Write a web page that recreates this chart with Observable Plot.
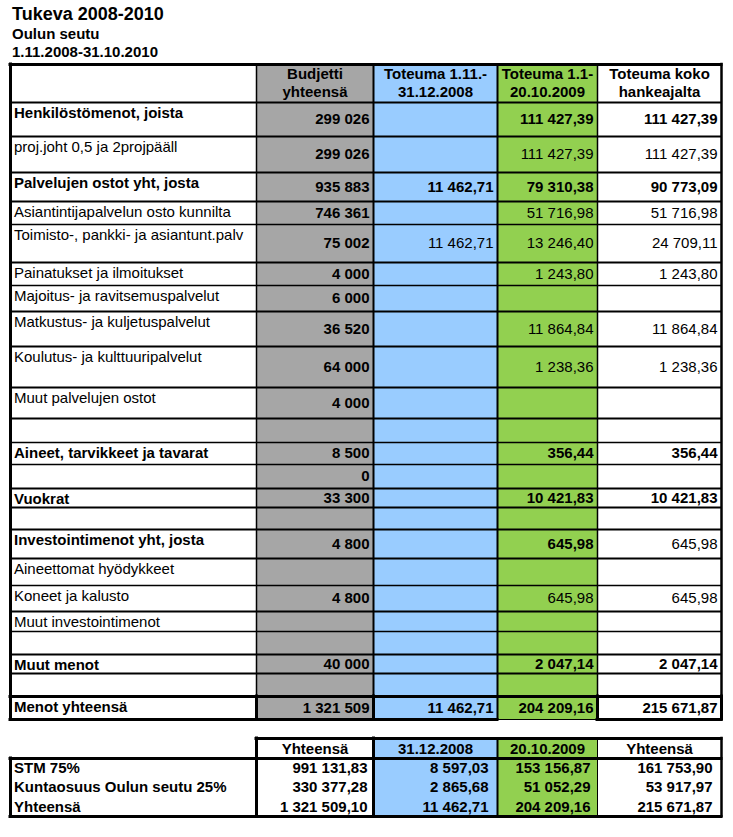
<!DOCTYPE html>
<html><head><meta charset="utf-8">
<script src="https://cdn.jsdelivr.net/npm/d3@7"></script>
<script src="https://cdn.jsdelivr.net/npm/@observablehq/plot@0.6"></script>
<style>
html,body{margin:0;padding:0;background:#fff;overflow:hidden;}
#head{padding:3px 0 0 12px;font-family:Arial,"Liberation Sans",sans-serif;font-weight:bold;color:#000;}
#t1{font-size:18px;line-height:22px;}
#t2,#t3{font-size:15px;line-height:18px;}
#chart svg{display:block;}
</style></head><body>
<div id="head"><div id="t1"></div><div id="t2"></div><div id="t3"></div></div>
<div id="chart"></div>
<script>
// ---------- DATA ----------
const title = "Tukeva 2008-2010";
const subtitle = "Oulun seutu";
const period = "1.11.2008-31.10.2010";

const headers = ["", "Budjetti\nyhteensä", "Toteuma 1.11.-\n31.12.2008", "Toteuma 1.1-\n20.10.2009", "Toteuma koko\nhankeajalta"];
const labels = [
  "Henkilöstömenot, joista", "proj.joht 0,5 ja 2projpääll", "Palvelujen ostot yht, josta",
  "Asiantintijapalvelun osto kunnilta", "Toimisto-, pankki- ja asiantunt.palv", "Painatukset ja ilmoitukset",
  "Majoitus- ja ravitsemuspalvelut", "Matkustus- ja kuljetuspalvelut", "Koulutus- ja kulttuuripalvelut",
  "Muut palvelujen ostot", "", "Aineet, tarvikkeet ja tavarat", "", "Vuokrat", "",
  "Investointimenot yht, josta", "Aineettomat hyödykkeet", "Koneet ja kalusto", "Muut investointimenot",
  "", "Muut menot", "", "Menot yhteensä"
];
const budjetti = [299026, 299026, 935883, 746361, 75002, 4000, 6000, 36520, 64000, 4000, null, 8500, 0, 33300, null, 4800, null, 4800, null, null, 40000, null, 1321509];
const toteuma2008 = [null, null, 11462.71, null, 11462.71, null, null, null, null, null, null, null, null, null, null, null, null, null, null, null, null, null, 11462.71];
const toteuma2009 = [111427.39, 111427.39, 79310.38, 51716.98, 13246.40, 1243.80, null, 11864.84, 1238.36, null, null, 356.44, null, 10421.83, null, 645.98, null, 645.98, null, null, 2047.14, null, 204209.16];
const toteumaKoko = [111427.39, 111427.39, 90773.09, 51716.98, 24709.11, 1243.80, null, 11864.84, 1238.36, null, null, 356.44, null, 10421.83, null, 645.98, null, 645.98, null, null, 2047.14, null, 215671.87];

const rahoitusHeaders = ["", "Yhteensä", "31.12.2008", "20.10.2009", "Yhteensä"];
const rahoitusLabels = ["STM 75%", "Kuntaosuus Oulun seutu 25%", "Yhteensä"];
const rahoitusYhteensa = [991131.83, 330377.28, 1321509.10];
const rahoitus2008 = [8597.03, 2865.68, 11462.71];
const rahoitus2009 = [153156.87, 51052.29, 204209.16];
const rahoitusKoko = [161753.90, 53917.97, 215671.87];

// ---------- LAYOUT / STYLE ----------
const boldRows = [0, 2, 11, 13, 15, 20, 22];
const regularExceptions = [{col: 4, row: 15}];
const colWidths = [246, 117, 124, 100, 124];
const mainRowHeights = [38, 34, 36, 29, 23, 38, 23, 26, 35, 41, 31, 24, 22, 24, 19, 22, 29, 27, 26, 20, 23, 19, 23, 23];
const mainLineWidths = [3, 2, 2, 2, 2, 1.5, 2, 1.5, 2, 2, 2, 2, 1.5, 1.5, 2, 2, 2, 2, 1.5, 2, 1.5, 2, 2, 3, 3];
const mainVLineWidths = [3, 1.5, 2, 2, 1.5, 2.5];
const gapHeight = 19;
const finRowHeights = [20, 19, 20, 19];
const finVLineWidths = [3, 3, 3, 2, 1, 2.5];
const finNumDx = [-6, -9, -7, -9];
const colKeys = ["label", "budjetti", "t2008", "t2009", "koko", "plain"];
const colColors = ["white", "#a6a6a6", "#99ccff", "#92d050", "white", "white"];

document.getElementById("t1").textContent = title;
document.getElementById("t2").textContent = subtitle;
document.getElementById("t3").textContent = period;

const loc = d3.formatLocale({decimal: ",", thousands: " ", grouping: [3], currency: ["", ""]});
const fmt2 = loc.format(",.2f"), fmt0 = loc.format(",.0f");

const cum = (a, start = 0) => a.reduce((acc, v) => (acc.push(acc[acc.length - 1] + v), acc), [start]);
const colEdges = cum(colWidths);
const mainEdges = cum(mainRowHeights);
const mainBottom = mainEdges[mainEdges.length - 1];
const finEdges = cum(finRowHeights, mainBottom + gapHeight);
const totalW = colEdges[colEdges.length - 1];
const totalH = finEdges[finEdges.length - 1];

// cells
const cells = [];
for (let r = 0; r < mainRowHeights.length; r++)
  for (let c = 0; c < 5; c++)
    cells.push({x1: colEdges[c], x2: colEdges[c + 1], y1: mainEdges[r], y2: mainEdges[r + 1], key: colKeys[c]});
for (let r = 0; r < finRowHeights.length; r++)
  for (let c = 1; c < 5; c++)
    cells.push({x1: colEdges[c], x2: colEdges[c + 1], y1: finEdges[r], y2: finEdges[r + 1], key: c === 1 ? "plain" : colKeys[c]});

// texts
const headerTexts = headers.slice(1).map((t, i) => ({x: (colEdges[i + 1] + colEdges[i + 2]) / 2, y: (mainEdges[0] + mainEdges[1]) / 2, text: t}));
const labelTexts = labels.map((t, r) => ({x: colEdges[0], y: mainEdges[r + 1], text: t, bold: boldRows.includes(r)})).filter(d => d.text);
const series = [budjetti, toteuma2008, toteuma2009, toteumaKoko];
const numTexts = [];
series.forEach((s, si) => s.forEach((v, r) => {
  if (v == null) return;
  const c = si + 1;
  let bold = si === 0 || boldRows.includes(r);
  if (regularExceptions.some(e => e.col === c && e.row === r)) bold = false;
  numTexts.push({x: colEdges[c + 1], y: (mainEdges[r + 1] + mainEdges[r + 2]) / 2, text: si === 0 ? fmt0(v) : fmt2(v), bold});
}));
const finHeaderTexts = rahoitusHeaders.slice(1).map((t, i) => ({x: (colEdges[i + 1] + colEdges[i + 2]) / 2, y: (finEdges[0] + finEdges[1]) / 2, text: t}));
const finLabelTexts = rahoitusLabels.map((t, r) => ({x: colEdges[0], y: (finEdges[r + 1] + finEdges[r + 2]) / 2, text: t}));
const finSeries = [rahoitusYhteensa, rahoitus2008, rahoitus2009, rahoitusKoko];
const finNumTexts = finSeries.map((s, si) => s.map((v, r) => ({x: colEdges[si + 2], y: (finEdges[r + 1] + finEdges[r + 2]) / 2, text: fmt2(v)})));

// lines
const hLines = [];
mainEdges.forEach((y, i) => {
  if (i === mainEdges.length - 1) {
    hLines.push({y, x1: colEdges[0], x2: colEdges[3], w: 3});
    hLines.push({y, x1: colEdges[3], x2: colEdges[4], w: 1});
    hLines.push({y, x1: colEdges[4], x2: colEdges[5], w: 3});
  } else hLines.push({y, x1: colEdges[0], x2: colEdges[5], w: mainLineWidths[i]});
});
hLines.push({y: finEdges[0], x1: colEdges[1], x2: colEdges[5], w: 3});
hLines.push({y: finEdges[1], x1: colEdges[0], x2: colEdges[5], w: 3});
hLines.push({y: finEdges[4], x1: colEdges[0], x2: colEdges[5], w: 3});
const vLines = [];
colEdges.forEach((x, i) => vLines.push({x, y1: mainEdges[0], y2: mainBottom, w: mainVLineWidths[i]}));
const lastTop = mainEdges[mainEdges.length - 2];
[1, 2, 4, 5].forEach(i => vLines.push({x: colEdges[i], y1: lastTop, y2: mainBottom, w: 3}));
colEdges.forEach((x, i) => vLines.push({x, y1: i === 0 ? finEdges[1] : finEdges[0], y2: finEdges[4], w: finVLineWidths[i]}));

const font = 'Arial, "Liberation Sans", sans-serif';
const txt = {x: "x", y: "y", text: "text", fontSize: 15, fill: "#000"};

const chart = Plot.plot({
  width: 733, height: 776,
  marginLeft: 10, marginRight: 12, marginTop: 3, marginBottom: 21,
  x: {domain: [0, totalW], axis: null},
  y: {domain: [0, totalH], reverse: true, axis: null},
  color: {domain: colKeys, range: colColors},
  style: {fontFamily: font, background: "white"},
  marks: [
    Plot.rect(cells, {x1: "x1", x2: "x2", y1: "y1", y2: "y2", fill: "key"}),
    Plot.text(headerTexts, {...txt, fontWeight: "bold", textAnchor: "middle", lineAnchor: "middle", lineHeight: 1.2, dy: -1}),
    Plot.text(labelTexts.filter(d => d.bold), {...txt, fontWeight: "bold", textAnchor: "start", lineAnchor: "top", dx: 3.5, dy: 4.5}),
    Plot.text(labelTexts.filter(d => !d.bold), {...txt, textAnchor: "start", lineAnchor: "top", dx: 3.5, dy: 4.5}),
    Plot.text(numTexts.filter(d => d.bold), {...txt, fontWeight: "bold", textAnchor: "end", lineAnchor: "middle", dx: -4}),
    Plot.text(numTexts.filter(d => !d.bold), {...txt, textAnchor: "end", lineAnchor: "middle", dx: -4}),
    Plot.text(finHeaderTexts, {...txt, fontWeight: "bold", textAnchor: "middle", lineAnchor: "middle", dy: 1}),
    Plot.text(finLabelTexts, {...txt, fontWeight: "bold", textAnchor: "start", lineAnchor: "middle", dx: 3.5}),
    ...finNumTexts.map((d, i) => Plot.text(d, {...txt, fontWeight: "bold", textAnchor: "end", lineAnchor: "middle", dx: finNumDx[i]})),
    Plot.ruleY(hLines, {y: "y", x1: "x1", x2: "x2", strokeWidth: "w", stroke: "#000", strokeLinecap: "square"}),
    Plot.ruleX(vLines, {x: "x", y1: "y1", y2: "y2", strokeWidth: "w", stroke: "#000", strokeLinecap: "square"})
  ]
});
document.getElementById("chart").appendChild(chart);
</script>
</body></html>
